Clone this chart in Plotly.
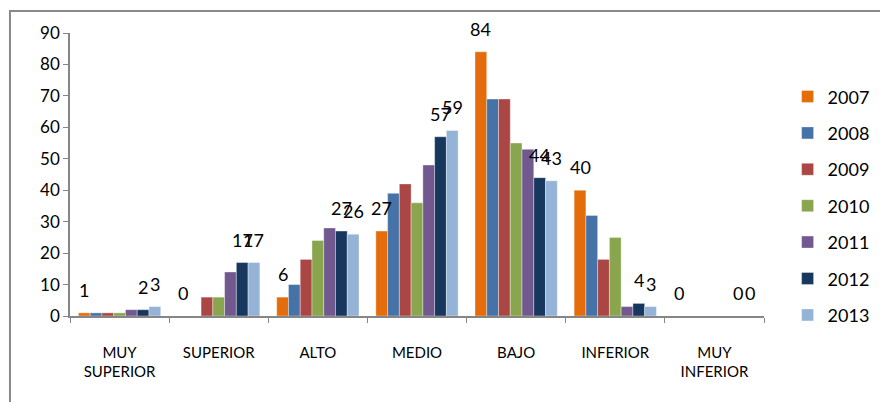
import plotly.graph_objects as go

categories = ['MUY<br>SUPERIOR', 'SUPERIOR', 'ALTO', 'MEDIO', 'BAJO', 'INFERIOR', 'MUY<br>INFERIOR']
years = ['2007', '2008', '2009', '2010', '2011', '2012', '2013']

v2007 = [1, 0, 6, 27, 84, 40, 0]
v2008 = [1, 0, 10, 39, 69, 32, 0]
v2009 = [1, 6, 18, 42, 69, 18, 0]
v2010 = [1, 6, 24, 36, 55, 25, 0]
v2011 = [2, 14, 28, 48, 53, 3, 0]
v2012 = [2, 17, 27, 57, 44, 4, 0]
v2013 = [3, 17, 26, 59, 43, 3, 0]

series = [v2007, v2008, v2009, v2010, v2011, v2012, v2013]
colors = ['#E46C0A', '#4572A7', '#AA4643', '#89A54E', '#71588F', '#17375E', '#95B3D7']
# years that carry a data label
labelled = ['2007', '2012', '2013']

FONT = 'Lato'
bargap = 0.17

fig = go.Figure()
for year, vals, col in zip(years, series, colors):
    fig.add_trace(go.Bar(
        x=categories, y=vals, name=year,
        marker=dict(color=col, line=dict(color='rgba(255,255,255,0.6)', width=0.6)),
        legendgroup=year,
    ))

# data labels, placed above the bars like the excel "outside end" labels
n = len(years)
bw = (1 - bargap) / n
annotations = []
for j, (year, vals) in enumerate(zip(years, series)):
    if year not in labelled:
        continue
    for i, v in enumerate(vals):
        annotations.append(dict(
            x=i - (1 - bargap) / 2 + (j + 0.5) * bw, y=v, xref='x', yref='y',
            text=str(v), showarrow=False, yshift=23, yanchor='middle',
            font=dict(family=FONT, size=18, color='#000000'),
        ))

# the page body adds 8px on the left and top, margins account for it
fig.update_layout(
    width=888, height=402,
    margin=dict(l=62, r=132, t=25, b=94),
    paper_bgcolor='white', plot_bgcolor='white',
    barmode='group', bargap=bargap, bargroupgap=0,
    font=dict(family=FONT, size=16, color='#000000'),
    annotations=annotations,
    showlegend=True,
    legend=dict(
        x=1.034, xanchor='left', y=0.84, yanchor='top',
        font=dict(family=FONT, size=18, color='#000000'),
        tracegroupgap=10, itemwidth=30, bgcolor='rgba(0,0,0,0)',
    ),
    shapes=[dict(
        type='rect', xref='paper', yref='paper',
        x0=-0.0865, x1=1.6, y0=-0.6, y1=1.0777,
        line=dict(color='#898989', width=2), fillcolor='rgba(0,0,0,0)', layer='below',
    )],
)

fig.update_yaxes(
    range=[0, 90], dtick=10, showgrid=False, zeroline=False,
    showline=True, linecolor='#868686', linewidth=1.5,
    ticks='outside', ticklen=5, tickcolor='#868686',
    tickfont=dict(family=FONT, size=17, color='#000000'),
)
fig.update_xaxes(
    showgrid=False, showline=True, linecolor='#868686', linewidth=1.5,
    ticks='outside', ticklen=5, tickcolor='#868686', tickson='boundaries',
    tickfont=dict(family=FONT, size=15, color='#000000'),
    ticklabelstandoff=22,
)

fig.write_html('out.html')
